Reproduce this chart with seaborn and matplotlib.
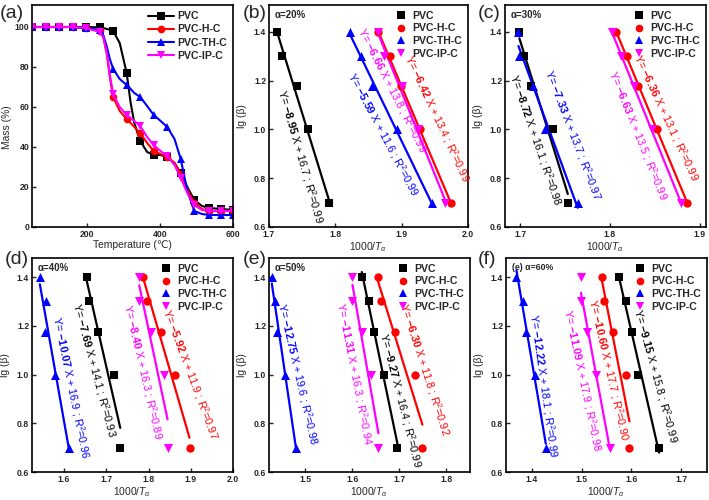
import numpy as np
import pandas as pd
import matplotlib
matplotlib.use("Agg")
import matplotlib.pyplot as plt
import seaborn as sns
from matplotlib.lines import Line2D

sns.set_theme(style="ticks")
plt.rcParams.update({
    "font.family": ["Liberation Sans", "DejaVu Sans"],
    "mathtext.fontset": "custom",
    "mathtext.rm": "Liberation Sans",
    "mathtext.it": "Liberation Sans:italic",
    "mathtext.bf": "Liberation Sans:bold",
    "axes.linewidth": 1.2,
    "axes.edgecolor": "black",
})

# ---------------- data ----------------
series = ["PVC", "PVC-H-C", "PVC-TH-C", "PVC-IP-C"]
colors = ["black", "red", "blue", "magenta"]
markers = ["s", "o", "^", "v"]

# panel (a): TGA
temperature = [50, 87, 124, 161, 198, 235, 245, 255, 263, 272, 290, 309, 320, 330,
               346, 365, 383, 402, 420, 440, 457, 475, 494, 515, 535, 568, 600]
marker_idx = [0, 1, 2, 3, 4, 5, 9, 11, 14, 16, 18, 20, 22, 24, 25, 26]
mass_pvc = [100, 100, 100, 100, 100, 99.8, 99.5, 99, 98.6, 98, 92, 77, 62, 52,
            43, 37.5, 36, 36, 35, 32, 27, 20, 13.5, 10.5, 9.5, 9, 8.5]
mass_h = [100, 100, 100, 100, 99.5, 98, 95, 86, 75, 65, 58, 54, 52, 50,
          47, 42, 38, 36.5, 35, 32, 26.5, 19, 12, 9, 8, 8, 8]
mass_th = [100, 100, 100, 100, 99.5, 98.5, 96, 90, 84, 79, 74, 71, 69, 67,
           65, 60.5, 56, 53, 50, 44, 34, 18, 8, 6.5, 6, 6, 6]
mass_ip = [100, 100, 100, 100, 99.5, 97.5, 95, 87, 76, 66.5, 60, 56, 54.5, 53,
           50.5, 45, 41, 38, 35.5, 31, 24.5, 17, 11, 8.5, 8, 8, 8]

# panels (b)-(f): lg(beta) vs 1000/T_alpha
lg_beta = [1.398, 1.301, 1.176, 1.0, 0.699]

inv_t20 = {"PVC": [1.7125, 1.720, 1.7415, 1.7585, 1.790],
           "PVC-H-C": [1.864, 1.8825, 1.899, 1.9275, 1.974],
           "PVC-TH-C": [1.8225, 1.839, 1.855, 1.8935, 1.945],
           "PVC-IP-C": [1.865, 1.8735, 1.900, 1.925, 1.965]}
inv_t30 = {"PVC": [1.699, 1.704, 1.712, 1.7365, 1.753],
           "PVC-H-C": [1.807, 1.819, 1.8317, 1.852, 1.8863],
           "PVC-TH-C": [1.698, 1.699, 1.714, 1.728, 1.764],
           "PVC-IP-C": [1.8022, 1.8125, 1.827, 1.8465, 1.879]}
inv_t40 = {"PVC": [1.6534, 1.660, 1.681, 1.718, 1.733],
           "PVC-H-C": [1.787, 1.797, 1.8287, 1.862, 1.897],
           "PVC-TH-C": [1.5426, 1.5562, 1.5538, 1.5785, 1.612],
           "PVC-IP-C": [1.778, 1.778, 1.805, 1.837, 1.845]}
inv_t50 = {"PVC": [1.6206, 1.635, 1.6475, 1.668, 1.6965],
           "PVC-H-C": [1.6546, 1.661, 1.6915, 1.734, 1.7496],
           "PVC-TH-C": [1.429, 1.436, 1.440, 1.4574, 1.481],
           "PVC-IP-C": [1.6007, 1.6007, 1.6206, 1.6404, 1.656]}
inv_t60 = {"PVC": [1.5758, 1.5886, 1.6007, 1.614, 1.6557],
           "PVC-H-C": [1.540, 1.545, 1.5638, 1.5886, 1.596],
           "PVC-TH-C": [1.369, 1.3826, 1.389, 1.406, 1.428],
           "PVC-IP-C": [1.4987, 1.4987, 1.510, 1.529, 1.557]}

eq20 = {"PVC": ("-8.95", "16.7", "0.99"), "PVC-H-C": ("-6.42", "13.4", "0.99"),
        "PVC-TH-C": ("-5.59", "11.6", "0.99"), "PVC-IP-C": ("-6.66", "13.8", "0.99")}
eq30 = {"PVC": ("-8.72", "16.1", "0.98"), "PVC-H-C": ("-6.36", "13.1", "0.99"),
        "PVC-TH-C": ("-7.33", "13.7", "0.97"), "PVC-IP-C": ("-6.63", "13.5", "0.99")}
eq40 = {"PVC": ("-7.69", "14.1", "0.93"), "PVC-H-C": ("-5.92", "11.9", "0.97"),
        "PVC-TH-C": ("-10.07", "16.9", "0.96"), "PVC-IP-C": ("-8.40", "16.3", "0.89")}
eq50 = {"PVC": ("-9.27", "16.4", "0.99"), "PVC-H-C": ("-6.30", "11.8", "0.92"),
        "PVC-TH-C": ("-12.75", "19.6", "0.98"), "PVC-IP-C": ("-11.31", "16.3", "0.94")}
eq60 = {"PVC": ("-9.15", "15.8", "0.99"), "PVC-H-C": ("-10.60", "17.7", "0.90"),
        "PVC-TH-C": ("-12.22", "18.1", "0.99"), "PVC-IP-C": ("-11.09", "17.9", "0.98")}

# ---------------- layout ----------------
W, H = 709, 500
fig = plt.figure(figsize=(W / 100, H / 100), dpi=100)


def rect(l, t, r, b):
    return [l / W, 1 - b / H, (r - l) / W, (b - t) / H]


def style_axes(ax):
    for s in ax.spines.values():
        s.set_visible(True)
        s.set_linewidth(1.2)
        s.set_color("black")
    ax.tick_params(direction="in", length=3, width=1.0, labelsize=6.2, pad=2,
                   top=False, right=False)
    for lab in ax.get_xticklabels() + ax.get_yticklabels():
        lab.set_fontweight("bold")
    ax.grid(False)


# ---- (a) ----
ax = fig.add_axes(rect(32, 5, 233, 227))
mass_all = [mass_pvc, mass_h, mass_th, mass_ip]
for name, m, c, mk in zip(series, mass_all, colors, markers):
    df = pd.DataFrame({"T": temperature, "M": m})
    sns.lineplot(data=df, x="T", y="M", ax=ax, color=c, lw=1.5, sort=False,
                 marker=mk, markevery=marker_idx, markersize=5.5, mec=c, mew=0)
ax.set_xlim(50, 600)
ax.set_ylim(0, 111)
ax.set_xticks([200, 400, 600])
ax.set_yticks([0, 20, 40, 60, 80, 100])
ax.set_xlabel("Temperature (\u2103)", fontsize=7.4, labelpad=1)
ax.set_ylabel("Mass (%)", fontsize=7.4)
ax.yaxis.set_label_coords(-0.1, 0.45)
style_axes(ax)
h = [Line2D([], [], color=c, marker=mk, lw=1.5, markersize=5.5, mew=0)
     for c, mk in zip(colors, markers)]
ax.legend(h, series, loc="upper right", frameon=False,
          prop={"weight": "bold", "size": 7.6}, handlelength=2.4,
          handletextpad=0.3, labelspacing=0.3, borderaxespad=0.2)
fig.text(0 / W, 1 - 14 / H, "(a)", fontsize=14, va="center", ha="left")

# ---- (b)-(f) ----
panels = [
    ("(b)", rect(269, 5, 468, 227), inv_t20, eq20, "\u03b1=20%", (1.7, 2.0), (0.6, 1.51),
     [1.7, 1.8, 1.9, 2.0], 243, 14,
     {"PVC": (1.7475, 0.887, -74), "PVC-H-C": (1.9525, 1.044, -65),
      "PVC-TH-C": (1.872, 0.98, -62), "PVC-IP-C": (1.886, 1.161, -63)}),
    ("(c)", rect(505, 5, 706, 227), inv_t30, eq30, "\u03b1=30%", (1.683, 1.907), (0.6, 1.51),
     [1.7, 1.8, 1.9], 478, 14,
     {"PVC": (1.7173, 0.955, -71), "PVC-H-C": (1.862, 1.048, -65),
      "PVC-TH-C": (1.7587, 0.976, -69), "PVC-IP-C": (1.8306, 0.976, -68)}),
    ("(d)", rect(32, 258, 233, 472), inv_t40, eq40, "\u03b1=40%", (1.524, 2.0), (0.6, 1.478),
     [1.6, 1.7, 1.8, 1.9, 2.0], 5, 260,
     {"PVC": (1.6717, 1.017, -75), "PVC-H-C": (1.8988, 1.0, -69.5),
      "PVC-TH-C": (1.616, 0.949, -78.4), "PVC-IP-C": (1.7873, 1.013, -77)}),
    ("(e)", rect(269, 258, 470, 472), inv_t50, eq50, "\u03b1=50%", (1.423, 1.851), (0.6, 1.478),
     [1.5, 1.6, 1.7, 1.8], 243, 260,
     {"PVC": (1.702, 0.894, -75.6), "PVC-H-C": (1.7532, 1.021, -72),
      "PVC-TH-C": (1.4844, 1.003, -77), "PVC-IP-C": (1.6043, 1.003, -79)}),
    ("(f)", rect(506, 258, 707, 472), inv_t60, eq60, "(e) \u03b1=60%", (1.348, 1.752), (0.6, 1.478),
     [1.4, 1.5, 1.6, 1.7], 478, 260,
     {"PVC": (1.649, 0.994, -74.7), "PVC-H-C": (1.5537, 1.021, -77),
      "PVC-TH-C": (1.4228, 0.953, -82), "PVC-IP-C": (1.5013, 0.976, -78)}),
]

msize = {"s": 28, "o": 36, "^": 42, "v": 42}
for lab, r, xs, eqs, alpha_txt, xl, yl, xt, lx, ly, tpos in panels:
    ax = fig.add_axes(r)
    for name, c, mk in zip(series, colors, markers):
        x = np.array(xs[name])
        y = np.array(lg_beta)
        k, b0 = np.polyfit(x, y, 1)
        xf = np.array([x.min(), x.max()])
        sns.lineplot(x=xf, y=k * xf + b0, ax=ax, color=c, lw=1.6, sort=False, zorder=2)
        sns.scatterplot(x=x, y=y, ax=ax, color=c, marker=mk, s=msize[mk],
                        linewidth=0, zorder=3)
        sl, ic, r2 = eqs[name]
        tx, ty, rot = tpos[name]
        ax.text(tx, ty, "Y= $\\mathbf{" + sl + "}$ X + " + ic + " ; R$^2$=" + r2,
                color=c, fontsize=7.8, rotation=rot, rotation_mode="anchor",
                ha="center", va="center", zorder=4)
    ax.set_xlim(*xl)
    ax.set_ylim(*yl)
    ax.set_xticks(xt)
    ax.set_yticks([0.6, 0.8, 1.0, 1.2, 1.4])
    ax.xaxis.set_major_formatter(matplotlib.ticker.FormatStrFormatter("%.1f"))
    ax.yaxis.set_major_formatter(matplotlib.ticker.FormatStrFormatter("%.1f"))
    ax.set_xlabel("1000/$T_{\u03b1}$", fontsize=7.4, labelpad=1)
    ax.set_ylabel("lg (\u03b2)", fontsize=7.4)
    ax.yaxis.set_label_coords(-0.11, 0.5)
    style_axes(ax)
    fs = 6.3 if alpha_txt.startswith("(e)") else 7
    ax.text(0.03, 0.955, alpha_txt, transform=ax.transAxes, fontsize=fs,
            fontweight="bold", ha="left", va="center")
    hh = [Line2D([], [], color=c, marker=mk, ls="none", markersize=5.5, mew=0)
          for c, mk in zip(colors, markers)]
    ax.legend(hh, series, loc="upper right", frameon=False,
              prop={"weight": "bold", "size": 7.6}, handletextpad=0.5,
              labelspacing=0.25, borderaxespad=0.15, handlelength=1.2)
    fig.text(lx / W, 1 - ly / H, lab, fontsize=14, va="center", ha="left")

fig.savefig("out.png", dpi=100)
